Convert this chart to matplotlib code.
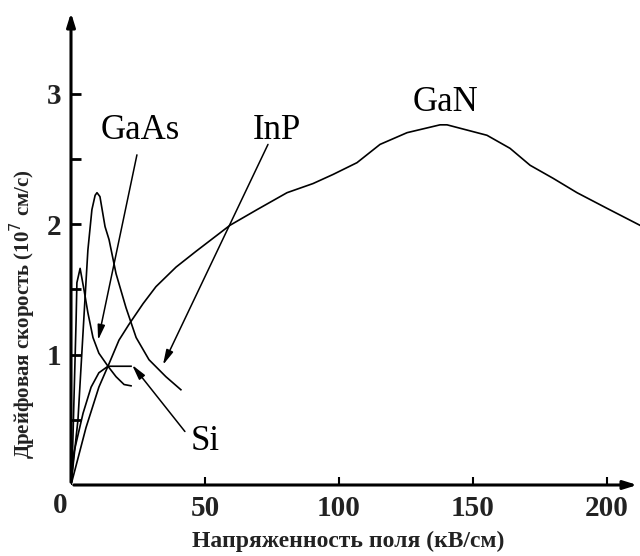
import matplotlib
matplotlib.use("Agg")
import matplotlib.pyplot as plt

plt.rcParams['font.family'] = ['Liberation Serif', 'DejaVu Serif']

# поле, кВ/см ; скорость, 10^7 см/с
gan_x = [0, 5.6, 10.4, 14.2, 17.9, 21.6, 26.9, 31.7, 39.2, 46.6, 59.3, 69.4, 80.6, 90.3, 97.8,
         106.7, 115.3, 125.4, 137.7, 140.3, 155.2, 163.8, 171.3, 179.9, 188.8, 200, 212.3]
gan_y = [0, 0.44, 0.75, 0.93, 1.11, 1.23, 1.39, 1.52, 1.67, 1.79, 1.99, 2.11, 2.24, 2.31, 2.38,
         2.47, 2.61, 2.70, 2.76, 2.76, 2.68, 2.58, 2.45, 2.35, 2.24, 2.12, 1.99]

si_x = [0, 1.1, 4.5, 7.5, 10.4, 13.8, 22.4]
si_y = [0, 0.25, 0.55, 0.75, 0.86, 0.91, 0.91]

gaas_x = [0, 0.4, 1.1, 1.9, 2.2, 3.4, 4.9, 6.3, 8.2, 10.4, 13.8, 16.8, 19.8, 22.4]
gaas_y = [0, 0.11, 0.65, 1.26, 1.55, 1.66, 1.49, 1.32, 1.13, 1.01, 0.91, 0.83, 0.77, 0.76]

inp_x = [0, 2.6, 4.1, 5.2, 6.3, 7.8, 9.0, 9.7, 10.8, 12.7, 14.2, 16.8, 20.5, 24.3, 29.1, 35.4, 41.0]
inp_y = [0, 0.5, 1.03, 1.42, 1.80, 2.11, 2.22, 2.24, 2.21, 1.98, 1.88, 1.62, 1.36, 1.13, 0.96, 0.83, 0.73]

y_ticks = [0.5, 1, 1.5, 2, 2.5, 3]
y_labels = ['', '1', '', '2', '', '3']
x_ticks = [50, 100, 150, 200]

fig = plt.figure(figsize=(6.4, 5.56), dpi=100)
ax = fig.add_axes([71/640, 71/556, 569/640, 475/556])
ax.set_xlim(0, 212.3)
ax.set_ylim(0, 3.64)

for s in ax.spines.values():
    s.set_visible(False)

# оси со стрелками
ax.annotate('', xy=(1, 0), xytext=(0, 0), xycoords='axes fraction',
            arrowprops=dict(arrowstyle='-|>,head_length=0.8,head_width=0.25', lw=2.2, color='k'))
ax.annotate('', xy=(0, 1), xytext=(0, 0), xycoords='axes fraction',
            arrowprops=dict(arrowstyle='-|>,head_length=0.8,head_width=0.25', lw=2.2, color='k'))

lw = 1.2
ax.plot(gan_x, gan_y, color='k', lw=lw)
ax.plot(si_x, si_y, color='k', lw=lw)
ax.plot(gaas_x, gaas_y, color='k', lw=lw)
ax.plot(inp_x, inp_y, color='k', lw=lw)

ax.set_yticks(y_ticks)
ax.set_yticklabels(y_labels)
ax.set_xticks(x_ticks)
ax.set_xticklabels([str(t) for t in x_ticks])
ax.tick_params(axis='y', direction='in', length=7, width=2, pad=7, labelsize=21)
ax.tick_params(axis='x', direction='in', length=6, width=1.5, pad=7, labelsize=21)
for lab in ax.get_xticklabels() + ax.get_yticklabels():
    lab.set_fontweight('bold')
    lab.set_color('#222222')
ax.text(-4, -0.05, '0', ha='center', va='top', fontsize=21, fontweight='bold', color='#222222')

ap = dict(arrowstyle='-|>,head_length=0.9,head_width=0.22', lw=1.1, color='k', shrinkA=0, shrinkB=0)
ax.text(26, 2.72, 'GaAs', fontsize=25, ha='center', va='center')
ax.annotate('', xy=(10.1, 1.11), xytext=(24.6, 2.53), arrowprops=ap)
ax.text(77, 2.72, 'InP', fontsize=25, ha='center', va='center')
ax.annotate('', xy=(34.3, 0.92), xytext=(73.5, 2.61), arrowprops=ap)
ax.text(139.6, 2.93, 'GaN', fontsize=25, ha='center', va='center')
ax.text(50, 0.33, 'Si', fontsize=25, ha='center', va='center')
ax.annotate('', xy=(22.8, 0.92), xytext=(42.5, 0.41), arrowprops=ap)

fig.text(348/640, 1 - 541/556, 'Напряженность поля (кВ/см)', ha='center', va='center',
         fontsize=17, fontweight='bold', color='#222222')
fig.text(23/640, 1 - 314/556, 'Дрейфовая скорость (10$^7$ см/с)', ha='center', va='center',
         rotation=90, fontsize=15, fontweight='bold', color='#222222')

fig.savefig('out.png', dpi=100)
